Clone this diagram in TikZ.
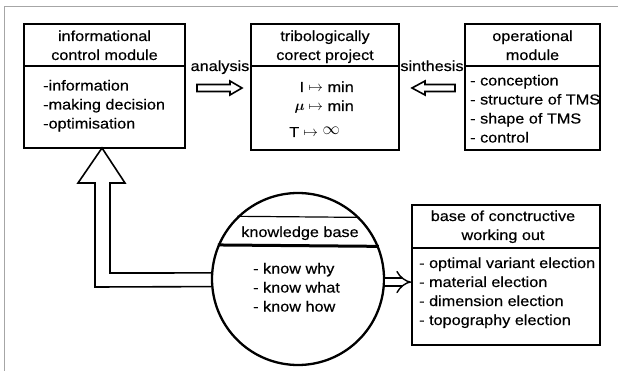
\documentclass[tikz,border=0pt]{standalone}
\usepackage{fontspec}
\setmainfont{Liberation Sans}[FakeStretch=1.12,FakeBold=0.4]
\usepackage{bm}
\usetikzlibrary{arrows.meta,calc}
\begin{document}
\begin{tikzpicture}[x=1pt,y=-1pt,
  box/.style={draw, line width=1.7pt, inner sep=0pt},
  divider/.style={line width=1.7pt},
  txt/.style={inner sep=0pt, font=\fontsize{14.5}{19}\selectfont},
  hollow/.style={draw, line width=1.6pt, line join=miter},
  frameline/.style={draw=gray!70, line width=0.9pt},
]
\fill[white] (0,0) rectangle (618,371);
\useasboundingbox (0,0) rectangle (618,371);
\draw[frameline] (618,6) -- (4,6) -- (4,371);

% informational control module
\node[box, minimum width=161pt, minimum height=124pt] (icm) at (104.5,86) {};
\draw[divider] (icm.west |- 0,66) -- (icm.east |- 0,66);
\node[txt, anchor=base] (icmh1) at (104.5,41) {informational};
\node[txt, anchor=base] (icmh2) at (104.5,60) {control module};
\foreach \t [count=\i] in {-information, -making decision, -optimisation}
  \node[txt, anchor=base west] (icm-\i) at (43,{90.5+19*(\i-1)}) {\t};

% tribologically correct project
\node[box, minimum width=148pt, minimum height=126pt] (tcp) at (325,87) {};
\draw[divider] (tcp.west |- 0,66) -- (tcp.east |- 0,66);
\node[txt, anchor=base] (tcph1) at (325,41) {tribologically};
\node[txt, anchor=base] (tcph2) at (325,60) {corect project};
\node[txt, anchor=base east] (tcp-1) at (354,92) {I $\mapsto$ min};
\node[txt, anchor=base east] (tcp-2) at (354,111) {$\bm{\mu}\mapsto$ min};
\node[txt, anchor=base west] (tcp-3) at (289,137) {T $\mapsto$ \raisebox{2.5pt}{\fontsize{17}{19}\selectfont$\infty$}};

% operational module
\node[box, minimum width=135pt, minimum height=126pt] (opm) at (532.5,87) {};
\draw[divider] (opm.west |- 0,66) -- (opm.east |- 0,66);
\node[txt, anchor=base] (opmh1) at (532.5,41) {operational};
\node[txt, anchor=base] (opmh2) at (532.5,60) {module};
\foreach \t [count=\i] in {- conception, - structure of TMS, - shape of TMS, - control}
  \node[txt, anchor=base west] (opm-\i) at (470,{85.5+19*(\i-1)}) {\t};

% labels and hollow arrows
\node[txt, anchor=base] (ana) at (220,71) {analysis};
\node[txt, anchor=base] (sin) at (432,71) {sinthesis};
\draw[hollow] (197,84.5) -- (230,84.5) -- (230,81) -- (242,88) -- (230,95) -- (230,91.5) -- (197,91.5) -- cycle;
\draw[hollow] (455,84.5) -- (425,84.5) -- (425,81) -- (412,88) -- (425,95) -- (425,91.5) -- (455,91.5) -- cycle;

% knowledge base circle
\node[circle, draw, line width=2.3pt, minimum size=172pt, inner sep=0pt] (kb) at (298,279) {};
\draw[line width=1.2pt] (kb.134.8) -- (kb.45.2);
\draw[line width=3pt] (kb.157.4) -- (kb.22.6);
\node[txt, anchor=base] (kbh) at (300,237) {knowledge base};
\foreach \t [count=\i] in {- know why, - know what, - know how}
  \node[txt, anchor=base west] (kb-\i) at (253,{273.5+19*(\i-1)}) {\t};

% big hollow L arrow
\draw[hollow] (kb.185.3) -- (95,287) -- (95,183) -- (78,183) -- (102,148) -- (125,183) -- (110,183) -- (110,273) -- (kb.176);

% base of constructive working out
\node[box, minimum width=188pt, minimum height=140pt] (bcw) at (506,275) {};
\draw[divider] (bcw.west |- 0,248) -- (bcw.east |- 0,248);
\node[txt, anchor=base] (bcwh1) at (503,221) {base of conctructive};
\node[txt, anchor=base] (bcwh2) at (503,240) {working out};
\foreach \t [count=\i] in {- optimal variant election, - material election, - dimension election, - topography election}
  \node[txt, anchor=base west] (bcw-\i) at (419,{268+19*(\i-1)}) {\t};

\coordinate (kbout) at (kb.358.3);
\draw[line width=1.4pt, double, double distance=6.5pt, -{Implies}] (kbout) -- (kbout -| bcw.west);
\end{tikzpicture}
\end{document}
